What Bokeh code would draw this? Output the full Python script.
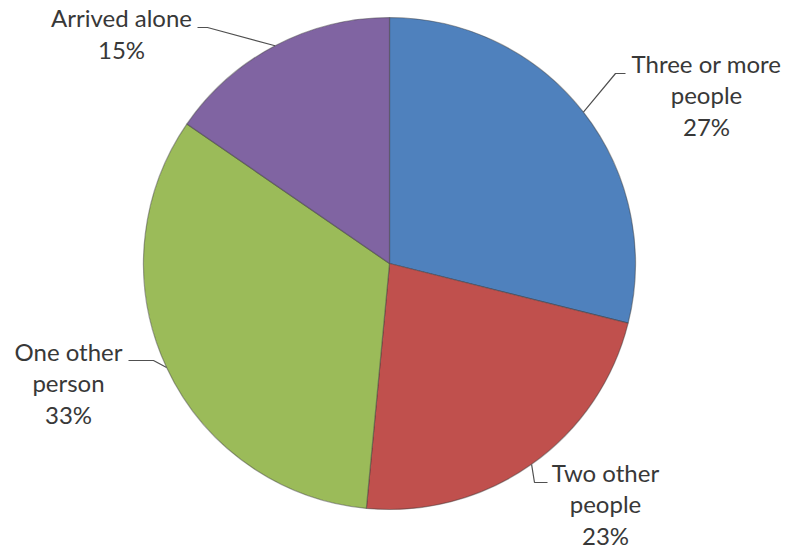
import math
from bokeh.plotting import figure
from bokeh.models import ColumnDataSource, Range1d
from bokeh.core.properties import value
from bokeh.embed import file_html
from bokeh.resources import INLINE

# ---- data ----
categories = ["Three or more\npeople", "Two other\npeople", "One other\nperson", "Arrived alone"]
shares = [28.9, 22.6, 33.1, 15.4]          # slice sizes
pct_labels = ["27%", "23%", "33%", "15%"]  # percentages printed on the chart
colors = ["#4F81BD", "#C0504D", "#9BBB59", "#8064A2"]

# ---- layout (screen pixels, y downward) ----
W, H = 786, 551
CX, CY, R = 389, 263, 246
label_centers = [(706, 94), (605, 503), (68, 382), (121, 33)]
leader_pts = [  # points after the slice edge point (elbow, end)
    [(615, 73), (625, 73)],
    [(534, 482), (547, 482)],
    [(153, 360), (128, 360)],
    [(207, 27), (197, 27)],
]
LINE_GAP = 31.5
FONT = "Lato"
TXT = "#383838"


def sy(y):
    return H - y


total = sum(shares)
starts, ends, mids = [], [], []
cum = 0.0
for s in shares:
    a0 = math.pi / 2 - 2 * math.pi * cum / total
    cum += s
    a1 = math.pi / 2 - 2 * math.pi * cum / total
    starts.append(a0)
    ends.append(a1)
    mids.append((a0 + a1) / 2)

p = figure(width=W, height=H, output_backend="svg", toolbar_location=None,
           x_range=Range1d(0, W), y_range=Range1d(0, H),
           x_axis_type=None, y_axis_type=None, min_border=0)
p.grid.visible = False
p.outline_line_color = None
p.background_fill_color = "white"
p.border_fill_color = "white"

src = ColumnDataSource(dict(start=starts, end=ends, color=colors, cat=categories))
p.wedge(x=CX, y=sy(CY), radius=R, start_angle="start", end_angle="end",
        direction="clock", fill_color="color", line_color="#3a3a3a",
        line_alpha=0.45, line_width=1.2, source=src)

# leader lines
for m, pts in zip(mids, leader_pts):
    ex = CX + R * math.cos(m)
    ey = sy(CY) + R * math.sin(m)
    xs = [ex] + [q[0] for q in pts]
    ys = [ey] + [sy(q[1]) for q in pts]
    p.line(xs, ys, line_color="#505050", line_width=1.2)

# labels
tx, ty, tt = [], [], []
for cat, pct, (lx, ly) in zip(categories, pct_labels, label_centers):
    lines = cat.split("\n") + [pct]
    n = len(lines)
    for i, t in enumerate(lines):
        tx.append(lx)
        ty.append(sy(ly + (i - (n - 1) / 2) * LINE_GAP))
        tt.append(t)
p.text(x=tx, y=ty, text=tt, text_font=value(FONT), text_font_size="24px",
       text_color=TXT, text_align="center", text_baseline="middle")

open("out.html", "w").write(file_html(p, INLINE))
